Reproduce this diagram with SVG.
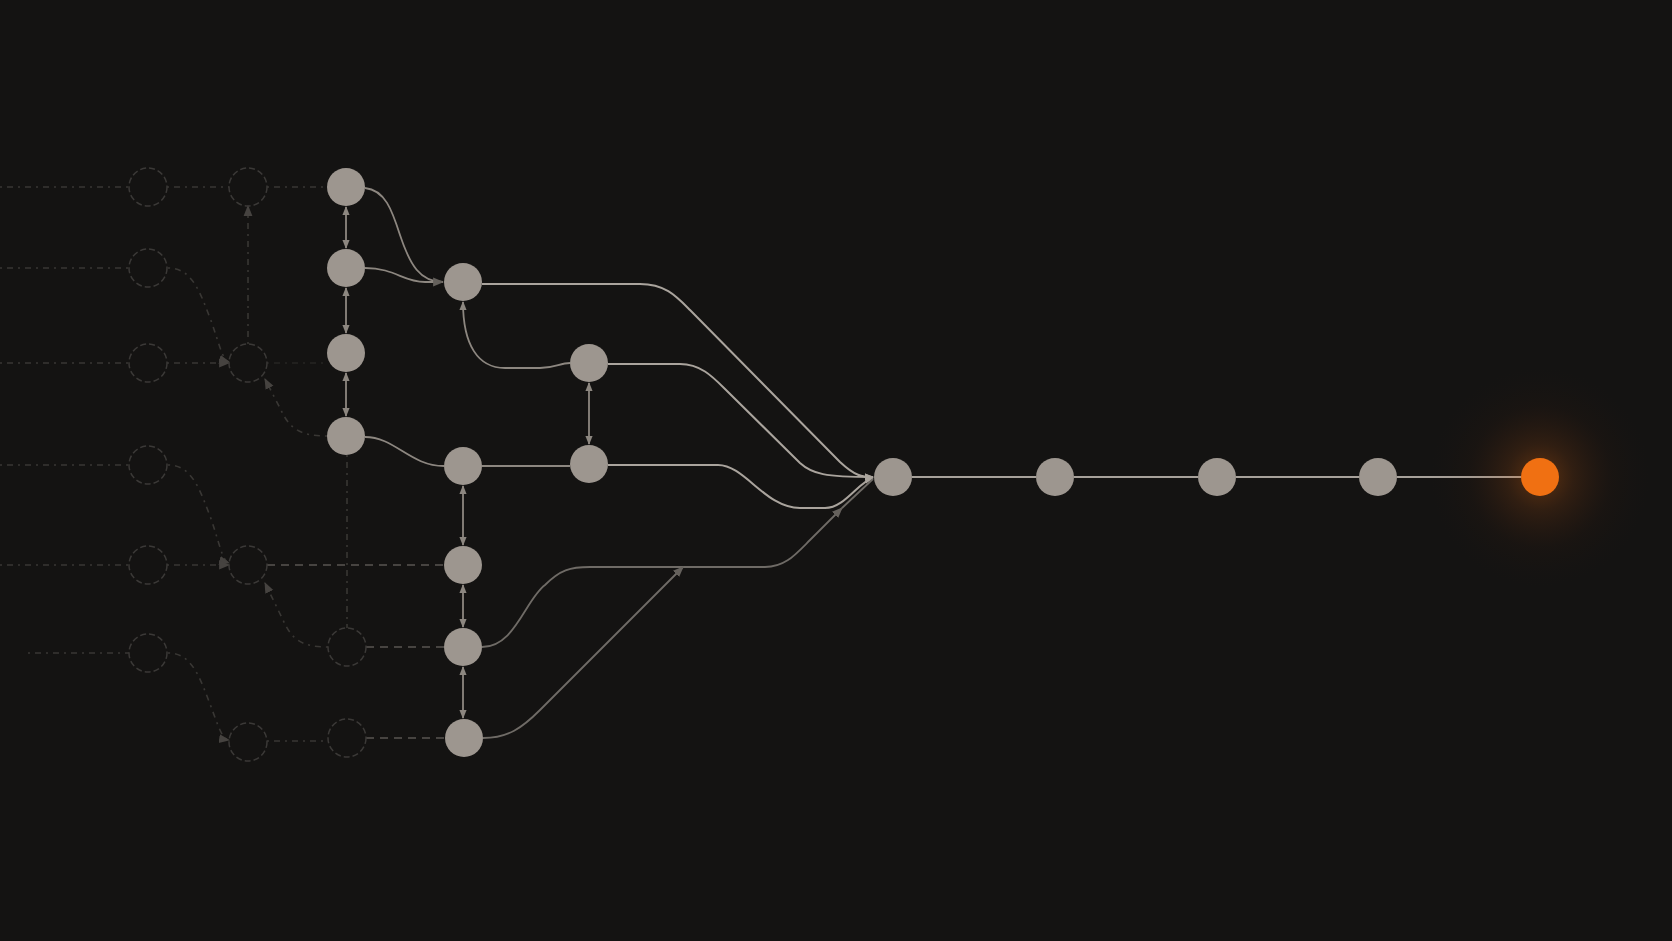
<svg xmlns="http://www.w3.org/2000/svg" width="1672" height="941" viewBox="0 0 1672 941">
<defs>
<style>
.node{fill:#9d968f}
.ghost{fill:none;stroke:#3b3937;stroke-width:1.5;stroke-dasharray:6 3}
.dot{fill:none;stroke:#393734;stroke-width:1.6;stroke-dasharray:2 5 6 5}
.dash{fill:none;stroke:#474441;stroke-width:1.8;stroke-dasharray:8 6}
.e{fill:none;stroke:#8d8780;stroke-width:1.8}
.eb{fill:none;stroke:#aaa49d;stroke-width:2}
.ed{fill:none;stroke:#6f6b66;stroke-width:1.8}
.chain{fill:none;stroke:#a7a19a;stroke-width:2}
</style>
<marker id="a" viewBox="0 0 10 10" refX="9" refY="5" markerWidth="9" markerHeight="9" markerUnits="userSpaceOnUse" orient="auto-start-reverse"><path d="M0,1 L10,5 L0,9 z" fill="#8d8780"/></marker>
<marker id="ab" viewBox="0 0 10 10" refX="9" refY="5" markerWidth="9" markerHeight="9" markerUnits="userSpaceOnUse" orient="auto-start-reverse"><path d="M0,1 L10,5 L0,9 z" fill="#aaa49d"/></marker>
<marker id="ad" viewBox="0 0 10 10" refX="9" refY="5" markerWidth="11" markerHeight="11" markerUnits="userSpaceOnUse" orient="auto-start-reverse"><path d="M0,1 L10,5 L0,9 z" fill="#65615c"/></marker>
<marker id="ag" viewBox="0 0 10 10" refX="9" refY="5" markerWidth="11" markerHeight="11" markerUnits="userSpaceOnUse" orient="auto-start-reverse"><path d="M0,1 L10,5 L0,9 z" fill="#464340"/></marker>
<radialGradient id="glow" cx="0.5" cy="0.5" r="0.5">
<stop offset="0" stop-color="#f07010" stop-opacity="0.35"/>
<stop offset="0.3" stop-color="#c85a10" stop-opacity="0.16"/>
<stop offset="0.65" stop-color="#7a3008" stop-opacity="0.05"/>
<stop offset="1" stop-color="#402000" stop-opacity="0"/>
</radialGradient>
</defs>
<rect width="1672" height="941" fill="#141312"/>
<g id="connectors">
<path class="dot" d="M0,187 H129"/>
<path class="dot" d="M167,187 H229"/>
<path class="dot" d="M267,187 H327"/>
<path class="dot" d="M0,268 H129"/>
<path class="dot" d="M168,268 C192,268 200,292 210,318 C219,342 222,360 229,362" marker-end="url(#ag)"/>
<path class="dot" d="M0,363 H129"/>
<path class="dot" d="M167,363 H229" marker-end="url(#ag)"/>
<path class="dot" d="M267,363 H327" opacity="0.5"/>
<path class="dot" d="M248,344 V206" marker-end="url(#ag)"/>
<path class="dot" d="M327,436 C302,436 290,430 281,410 L265,379" marker-end="url(#ag)"/>
<path class="dot" d="M0,465 H129"/>
<path class="dot" d="M168,465 C192,465 200,490 210,516 C219,541 222,561 229,563" marker-end="url(#ag)"/>
<path class="dot" d="M0,565 H129"/>
<path class="dot" d="M167,565 H229" marker-end="url(#ag)"/>
<path class="dash" d="M267,565 H444"/>
<path class="dot" d="M347,455 V628"/>
<path class="dot" d="M328,647 C302,647 292,640 283,620 L265,583" marker-end="url(#ag)"/>
<path class="dot" d="M28,653 H129"/>
<path class="dot" d="M168,653 C192,653 200,678 210,704 C219,728 222,739 229,740" marker-end="url(#ag)"/>
<path class="dash" d="M366,647 H444"/>
<path class="dot" d="M267,741 H328"/>
<path class="dash" d="M366,738 H445"/>
<path class="e" d="M346,207 V248" marker-start="url(#a)" marker-end="url(#a)"/>
<path class="e" d="M346,288 V333" marker-start="url(#a)" marker-end="url(#a)"/>
<path class="e" d="M346,373 V416" marker-start="url(#a)" marker-end="url(#a)"/>
<path class="e" d="M463,486 V545" marker-start="url(#a)" marker-end="url(#a)"/>
<path class="e" d="M463,585 V627" marker-start="url(#a)" marker-end="url(#a)"/>
<path class="e" d="M463,667 V718" marker-start="url(#a)" marker-end="url(#a)"/>
<path class="e" d="M589,383 V444" marker-start="url(#a)" marker-end="url(#a)"/>
<path class="e" d="M365,188 C385,190 392,210 400,235 C410,265 420,282 443,282"/>
<path class="e" d="M365,268 C395,268 403,282 425,282 H443" marker-end="url(#ad)"/>
<path class="e" d="M570,363 C560,363 555,368 540,368 H505 C478,368 463,345 463,302" marker-end="url(#a)"/>
<path class="e" d="M365,437 C395,437 410,466 444,466"/>
<path class="e" d="M482,466 H570"/>
<path class="eb" d="M482,284 H640 C665,284 676,296 690,310 L840,462 C855,476 862,477 873,477" marker-end="url(#ab)"/>
<path class="eb" d="M608,364 H680 C700,364 712,376 724,388 L800,463 C812,474 825,477 873,477" marker-end="url(#ab)"/>
<path class="eb" d="M608,465 H718 C745,465 765,508 800,508 H825 C845,508 858,482 873,478" marker-end="url(#ab)"/>
<path class="ed" d="M482,647 C515,647 525,600 545,585 C560,570 570,567 590,567 H765 C785,567 795,555 810,540 L842,508" marker-end="url(#ad)"/>
<path class="ed" d="M842,508 L873,479"/>
<path class="ed" d="M483,738 C508,738 522,728 540,710 L683,567" marker-end="url(#ad)"/>
<path class="chain" d="M912,477 H1036"/>
<path class="chain" d="M1074,477 H1198"/>
<path class="chain" d="M1236,477 H1359"/>
<path class="chain" d="M1397,477 H1521"/>
</g>
<g id="ghosts">
<circle id="g1a" class="ghost" cx="148" cy="187" r="19"/>
<circle id="g1b" class="ghost" cx="148" cy="268" r="19"/>
<circle id="g1c" class="ghost" cx="148" cy="363" r="19"/>
<circle id="g1d" class="ghost" cx="148" cy="465" r="19"/>
<circle id="g1e" class="ghost" cx="148" cy="565" r="19"/>
<circle id="g1f" class="ghost" cx="148" cy="653" r="19"/>
<circle id="g2a" class="ghost" cx="248" cy="187" r="19"/>
<circle id="g2c" class="ghost" cx="248" cy="363" r="19"/>
<circle id="g2e" class="ghost" cx="248" cy="565" r="19"/>
<circle id="g2g" class="ghost" cx="248" cy="742" r="19"/>
<circle id="gAf" class="ghost" cx="347" cy="647" r="19"/>
<circle id="gAg" class="ghost" cx="347" cy="738" r="19"/>
</g>
<g id="nA1"><circle class="node" cx="346" cy="187" r="19"/></g>
<g id="nA2"><circle class="node" cx="346" cy="268" r="19"/></g>
<g id="nA3"><circle class="node" cx="346" cy="353" r="19"/></g>
<g id="nA4"><circle class="node" cx="346" cy="436" r="19"/></g>
<g id="nB1"><circle class="node" cx="463" cy="282" r="19"/></g>
<g id="nB2"><circle class="node" cx="463" cy="466" r="19"/></g>
<g id="nB3"><circle class="node" cx="463" cy="565" r="19"/></g>
<g id="nB4"><circle class="node" cx="463" cy="647" r="19"/></g>
<g id="nB5"><circle class="node" cx="464" cy="738" r="19"/></g>
<g id="nC1"><circle class="node" cx="589" cy="363" r="19"/></g>
<g id="nC2"><circle class="node" cx="589" cy="464" r="19"/></g>
<g id="nHub"><circle class="node" cx="893" cy="477" r="19"/></g>
<g id="nN2"><circle class="node" cx="1055" cy="477" r="19"/></g>
<g id="nN3"><circle class="node" cx="1217" cy="477" r="19"/></g>
<g id="nN4"><circle class="node" cx="1378" cy="477" r="19"/></g>
<g id="nOut">
<circle cx="1540" cy="477" r="110" fill="url(#glow)"/>
<circle cx="1540" cy="477" r="19" fill="#f07012"/>
</g>
</svg>
